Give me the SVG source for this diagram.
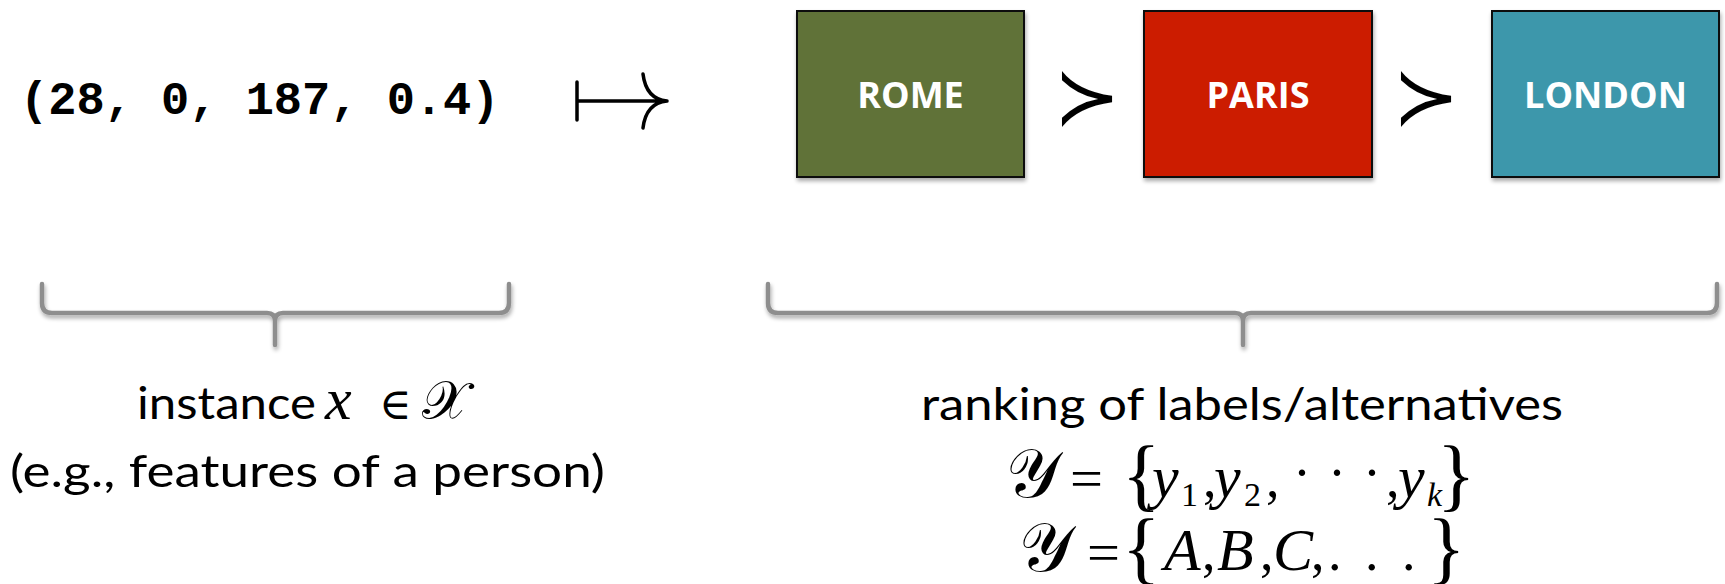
<svg xmlns="http://www.w3.org/2000/svg" width="1725" height="584" viewBox="0 0 1725 584">
  <style>
    .box { stroke: #111; stroke-width: 2; }
    .boxlabel { font-family: "Open Sans", "Liberation Sans", sans-serif; font-weight: bold; font-size: 36px; fill: #ffffff; text-anchor: middle; }
    .tuple { font-family: "Liberation Mono", "DejaVu Sans Mono", monospace; font-weight: bold; font-size: 47px; fill: #000; }
    .sans { font-family: Lato, "Open Sans", sans-serif; font-size: 44px; fill: #000; }
    .math { font-family: "Liberation Serif", "DejaVu Serif", serif; font-size: 54px; fill: #000; }
    .it { font-style: italic; font-size: 60px; }
    .cal { font-size: 68px; }
    .sub { font-size: 34px; }
    .brk { font-size: 80px; }
    .sym { font-family: "DejaVu Serif", "DejaVu Sans", serif; fill: #000; }
    .brace { fill: none; stroke: #8e8e8e; stroke-width: 4.5; stroke-linecap: round; stroke-linejoin: round; }
    .conn { fill: none; stroke: #000; stroke-width: 3.5; stroke-linecap: round; }
  </style>
  <defs>
    <filter id="shadow" x="-5%" y="-10%" width="110%" height="130%">
      <feGaussianBlur in="SourceAlpha" stdDeviation="2"/>
      <feOffset dx="1" dy="3" result="off"/>
      <feComponentTransfer><feFuncA type="linear" slope="0.35"/></feComponentTransfer>
      <feMerge><feMergeNode/><feMergeNode in="SourceGraphic"/></feMerge>
    </filter>
  </defs>

  <!-- feature vector -->
  <g id="instance">
    <text class="tuple" x="20" y="114">(28, 0, 187, 0.4)</text>
  </g>

  <!-- ranked alternatives -->
  <g id="rome">
    <rect class="box" x="797" y="11" width="227" height="166" fill="#617237" filter="url(#shadow)"/>
    <text class="boxlabel" x="910.5" y="108">ROME</text>
  </g>
  <g id="paris">
    <rect class="box" x="1144" y="11" width="228" height="166" fill="#cc1f00" filter="url(#shadow)"/>
    <text class="boxlabel" x="1258" y="108">PARIS</text>
  </g>
  <g id="london">
    <rect class="box" x="1492" y="11" width="227" height="166" fill="#3d97ab" filter="url(#shadow)"/>
    <text class="boxlabel" x="1605.5" y="108">LONDON</text>
  </g>

  <!-- maps-to arrow and preference relations -->
  <g id="connectors">
    <path class="conn" d="M577,82 V120 M577,101 H665 M643,74 Q646,99 667,101 M643,128 Q646,103 667,101"/>
    <text class="sym" x="1087" y="124" font-size="80" text-anchor="middle">≻</text>
    <text class="sym" x="1426" y="124" font-size="80" text-anchor="middle">≻</text>
  </g>

  <!-- underbraces -->
  <g id="brace-instance" filter="url(#shadow)">
    <path class="brace" d="M42,284 V303 Q42,313 52,313 H267 Q275,313 275,321 V345 M275,321 Q275,313 283,313 H499 Q509,313 509,303 V284"/>
  </g>
  <g id="brace-ranking" filter="url(#shadow)">
    <path class="brace" d="M768,284 V303 Q768,313 778,313 H1235 Q1243,313 1243,321 V345 M1243,321 Q1243,313 1251,313 H1707 Q1717,313 1717,303 V284"/>
  </g>

  <!-- caption under the instance -->
  <g id="instance-caption">
    <text class="sans" x="137" y="419" textLength="179" lengthAdjust="spacingAndGlyphs">instance</text>
    <text class="math it" x="325" y="419" font-size="64">x</text>
    <text class="sym" x="379" y="419" font-size="44">∈</text>
    <text class="math" x="422" y="419" font-size="60">𝒳</text>
    <text class="sans" x="10" y="487" textLength="595" lengthAdjust="spacingAndGlyphs">(e.g., features of a person)</text>
  </g>

  <!-- caption under the ranking -->
  <g id="ranking-caption">
    <text class="sans" x="921" y="420" textLength="642" lengthAdjust="spacingAndGlyphs">ranking of labels/alternatives</text>

    <g class="math">
      <text class="cal" x="1006" y="497">𝒴</text>
      <text x="1070" y="497" textLength="33" lengthAdjust="spacingAndGlyphs">=</text>
      <text class="brk" x="1122" y="501">{</text>
      <text class="it" x="1152" y="497">y</text>
      <text class="sub" x="1181" y="506">1</text>
      <text x="1203" y="497">,</text>
      <text class="it" x="1214" y="497">y</text>
      <text class="sub" x="1244" y="506">2</text>
      <text x="1266" y="497">,</text>
      <text x="1293" y="491">·</text>
      <text x="1328" y="491">·</text>
      <text x="1363" y="491">·</text>
      <text x="1386" y="497">,</text>
      <text class="it" x="1398" y="497">y</text>
      <text class="sub" x="1427" y="506" font-style="italic">k</text>
      <text class="brk" x="1437" y="501">}</text>

      <text class="cal" x="1019" y="571">𝒴</text>
      <text x="1087" y="571" textLength="33" lengthAdjust="spacingAndGlyphs">=</text>
      <text class="brk" x="1122" y="574" font-size="76">{</text>
      <text class="it" x="1164" y="570">A</text>
      <text x="1202" y="570">,</text>
      <text class="it" x="1217" y="570">B</text>
      <text x="1260" y="570">,</text>
      <text class="it" x="1273" y="570">C</text>
      <text x="1311" y="570">,</text>
      <text x="1328" y="570">.</text>
      <text x="1365" y="570">.</text>
      <text x="1402" y="570">.</text>
      <text class="brk" x="1427" y="574" font-size="76">}</text>
    </g>
  </g>
</svg>
